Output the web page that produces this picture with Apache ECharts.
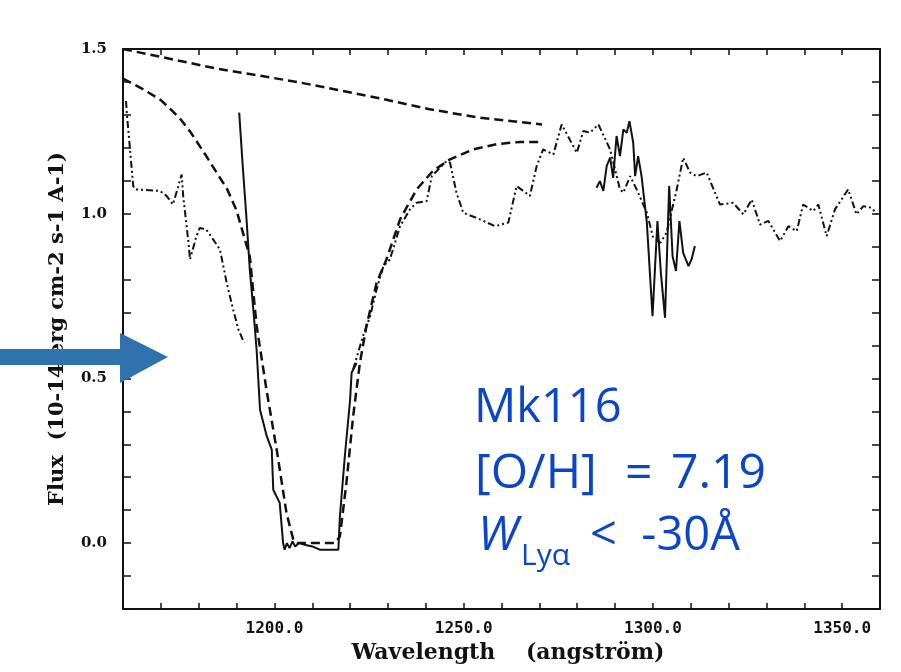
<!DOCTYPE html>
<html>
<head>
<meta charset="utf-8">
<script src="https://cdn.jsdelivr.net/npm/echarts@6/dist/echarts.min.js"></script>
<style>
  html, body { margin: 0; padding: 0; background: #fff; }
  #main { width: 901px; height: 672px; }
</style>
</head>
<body>
<div id="main"></div>
<script>
// continuum fit (upper dashed)
var contWave = [1160, 1185, 1206, 1228, 1241, 1254, 1265, 1270.7];
var contFlux = [1.50, 1.44, 1.40, 1.35, 1.317, 1.292, 1.278, 1.271];

// Lya absorption model (lower dashed)
var modelWave = [1160, 1165, 1170, 1175, 1178, 1182, 1185, 1187.5, 1190, 1192, 1193.5, 1195.3, 1197.9, 1200.6, 1203.2, 1205, 1206,
  1216, 1217.3, 1219, 1220.8, 1222.6, 1224.3, 1227, 1229.6, 1233.2, 1237.6, 1241.9, 1246.4, 1252.5, 1258.7, 1264.9, 1270.6];
var modelFlux = [1.41, 1.38, 1.345, 1.29, 1.245, 1.175, 1.12, 1.075, 1.01, 0.93, 0.87, 0.66, 0.466, 0.284, 0.091, 0.01, 0.0,
  0.0, 0.02, 0.18, 0.385, 0.548, 0.658, 0.79, 0.861, 0.983, 1.074, 1.13, 1.165, 1.195, 1.211, 1.218, 1.218];

// observed spectrum, solid, two pieces
var solidWaveA = [1190.7, 1191.6, 1192.6, 1193.5, 1194.5, 1195.3, 1196.2, 1198, 1199.3, 1199.7, 1201.4, 1202.3, 1202.7, 1203.3, 1204, 1204.8,
  1205.5, 1206.5, 1208, 1210, 1212, 1214, 1216.9, 1217.3, 1218.6, 1220, 1220.4, 1221.7];
var solidFluxA = [1.307, 1.15, 0.99, 0.83, 0.70, 0.587, 0.405, 0.324, 0.284, 0.162, 0.122, 0.0, -0.02, 0.0, -0.015, 0.005,
  -0.01, 0.0, -0.005, -0.01, -0.02, -0.02, -0.02, 0.08, 0.263, 0.435, 0.517, 0.547];
var solidWaveB = [1285.1, 1286, 1286.9, 1287.8, 1288.7, 1289.5, 1290.4, 1291.3, 1292.2, 1293.1, 1293.8, 1294.8, 1295.3, 1296.1, 1297,
  1298.4, 1299.9, 1301.2, 1302.1, 1303.2, 1304.3, 1305.2, 1306.1, 1307, 1308, 1309.4, 1310.2, 1311.1];
var solidFluxB = [1.079, 1.099, 1.069, 1.145, 1.17, 1.109, 1.236, 1.175, 1.256, 1.246, 1.281, 1.216, 1.114, 1.175, 1.114,
  0.973, 0.689, 0.978, 0.821, 0.684, 1.084, 0.871, 0.826, 0.978, 0.881, 0.841, 0.861, 0.902];

// observed spectrum, dash-dot-dot, two pieces
var dotWaveA = [1160.8, 1161, 1162.7, 1163.2, 1169.8, 1171.5, 1173.2, 1175.5, 1175.9, 1177.3, 1177.7, 1179.4, 1180.3, 1182, 1183.8,
  1185.6, 1187.4, 1189.1, 1190.5, 1192];
var dotFluxA = [1.342, 1.307, 1.084, 1.074, 1.069, 1.054, 1.028, 1.119, 1.054, 0.912, 0.861, 0.932, 0.957, 0.952, 0.922,
  0.892, 0.79, 0.709, 0.648, 0.608];
var dotWaveB = [1220.8, 1223.4, 1225.3, 1227, 1228.8, 1230.5, 1233.2, 1235.8, 1237.6, 1240.2, 1241.6, 1245.5, 1246.4, 1248.1, 1249.9,
  1254.3, 1258.3, 1261.8, 1264, 1267.5, 1269.3, 1271, 1273.7, 1275.9, 1279.9, 1281.6, 1283.4, 1285.6, 1288.7, 1291.3, 1292.2,
  1294, 1295.7, 1298.4, 1300, 1302, 1303.6, 1306.3, 1308, 1309.8, 1311.6, 1314.2, 1317.7, 1321.2, 1323.9, 1326.1, 1328.3,
  1330.5, 1333.6, 1335.8, 1338, 1339.7, 1342.4, 1343.7, 1345.9, 1348.1, 1351.6, 1353.8, 1355.6, 1357.8, 1359.2];
var dotFluxB = [0.527, 0.628, 0.689, 0.77, 0.841, 0.861, 0.962, 1.013, 1.033, 1.038, 1.114, 1.16, 1.155, 1.064, 1.003,
  0.983, 0.962, 0.973, 1.084, 1.054, 1.145, 1.195, 1.18, 1.271, 1.185, 1.251, 1.246, 1.271, 1.195, 1.074, 1.064,
  1.114, 1.074, 1.003, 0.93, 0.912, 0.942, 1.074, 1.17, 1.125, 1.114, 1.125, 1.028, 1.033, 0.998, 1.043, 0.967,
  0.978, 0.917, 0.962, 0.947, 1.028, 1.008, 1.028, 0.932, 1.013, 1.074, 0.998, 1.023, 1.018, 0.998];

var xLabelValues = [1200, 1250, 1300, 1350];
var yLabelValues = [0.0, 0.5, 1.0, 1.5];

function pairs(xs, ys) {
    return xs.map(function (x, i) { return [x, ys[i]]; });
}

var ink = '#111';
var blue = '#0b45c9';

function lineSeries(name, xs, ys, type, width) {
    return {
        name: name,
        type: 'line',
        data: pairs(xs, ys),
        showSymbol: false,
        symbol: 'none',
        silent: true,
        lineStyle: { color: ink, width: width, type: type, cap: 'butt' }
    };
}

var myChart = echarts.init(document.getElementById('main'), null, { renderer: 'canvas' });

var option = {
    animation: false,
    backgroundColor: '#ffffff',
    grid: { left: 123, right: 21, top: 49, bottom: 63 },
    xAxis: [{
        type: 'value',
        min: 1160, max: 1360, interval: 10,
        name: 'Wavelength    (angström)',
        nameLocation: 'middle',
        nameGap: 30,
        nameTextStyle: { fontFamily: 'DejaVu Serif', fontWeight: 'bold', fontSize: 22, color: ink, padding: [0, 0, 0, 13] },
        axisLine: { onZero: false, lineStyle: { color: ink, width: 2 } },
        axisTick: { inside: true, length: 6, lineStyle: { color: ink, width: 1.5 } },
        axisLabel: {
            customValues: xLabelValues,
            formatter: function (v) { return v.toFixed(1); },
            fontFamily: 'DejaVu Sans Mono', fontWeight: 'bold', fontSize: 16, color: ink, margin: 12
        },
        splitLine: { show: false }
    }, {
        type: 'value', position: 'top',
        min: 1160, max: 1360, interval: 10,
        axisLine: { onZero: false, lineStyle: { color: ink, width: 2 } },
        axisTick: { inside: true, length: 6, lineStyle: { color: ink, width: 1.5 } },
        axisLabel: { show: false },
        splitLine: { show: false }
    }],
    yAxis: [{
        type: 'value',
        min: -0.2, max: 1.5, interval: 0.1,
        name: 'Flux  (10-14 erg cm-2 s-1 A-1)',
        nameLocation: 'middle',
        nameGap: 55,
        nameTextStyle: { fontFamily: 'DejaVu Serif', fontWeight: 'bold', fontSize: 21, color: ink },
        axisLine: { onZero: false, lineStyle: { color: ink, width: 2 } },
        axisTick: { inside: true, length: 8, lineStyle: { color: ink, width: 1.5 } },
        axisLabel: {
            customValues: yLabelValues,
            formatter: function (v) { return (Math.abs(v) < 1e-9 ? 0 : v).toFixed(1); },
            fontFamily: 'DejaVu Serif', fontWeight: 'bold', fontSize: 15, color: ink, margin: 16
        },
        splitLine: { show: false }
    }, {
        type: 'value', position: 'right',
        min: -0.2, max: 1.5, interval: 0.1,
        axisLine: { onZero: false, lineStyle: { color: ink, width: 2 } },
        axisTick: { inside: true, length: 8, lineStyle: { color: ink, width: 1.5 } },
        axisLabel: { show: false },
        splitLine: { show: false }
    }],
    series: [
        lineSeries('continuum', contWave, contFlux, [9, 5], 2.5),
        lineSeries('model', modelWave, modelFlux, [9, 5], 2.5),
        lineSeries('iue-a', dotWaveA, dotFluxA, [7, 3, 2, 3, 2, 3], 2),
        lineSeries('iue-b', dotWaveB, dotFluxB, [7, 3, 2, 3, 2, 3], 2),
        lineSeries('hst-a', solidWaveA, solidFluxA, 'solid', 2),
        lineSeries('hst-b', solidWaveB, solidFluxB, 'solid', 2)
    ],
    graphic: [
        {
            type: 'polygon', z: 100,
            shape: { points: [[0, 349], [120, 349], [120, 333], [168, 357], [120, 383], [120, 365], [0, 365]] },
            style: { fill: '#2f72ad' }
        },
        {
            type: 'text', z: 100, x: 474, y: 409,
            style: { text: 'Mk116', fill: blue, font: '47px "Open Sans"', verticalAlign: 'middle' }
        },
        {
            type: 'text', z: 100, x: 475, y: 474,
            style: { text: '[O/H]', fill: blue, font: '48px "Open Sans"', verticalAlign: 'middle' }
        },
        {
            type: 'text', z: 100, x: 625, y: 474,
            style: { text: '=', fill: blue, font: '48px "Open Sans"', verticalAlign: 'middle' }
        },
        {
            type: 'text', z: 100, x: 671, y: 474,
            style: { text: '7.19', fill: blue, font: '48px "Open Sans"', verticalAlign: 'middle' }
        },
        {
            type: 'text', z: 100, x: 478, y: 537,
            style: { text: 'W', fill: blue, font: 'italic 47px "Open Sans"', verticalAlign: 'middle' }
        },
        {
            type: 'text', z: 100, x: 521, y: 556,
            style: { text: 'Lyα', fill: blue, font: '30px "Open Sans"', verticalAlign: 'middle' }
        },
        {
            type: 'text', z: 100, x: 590, y: 537,
            style: { text: '<  -30Å', fill: blue, font: '47px "Open Sans"', verticalAlign: 'middle' }
        }
    ]
};
myChart.setOption(option);
</script>
</body>
</html>
